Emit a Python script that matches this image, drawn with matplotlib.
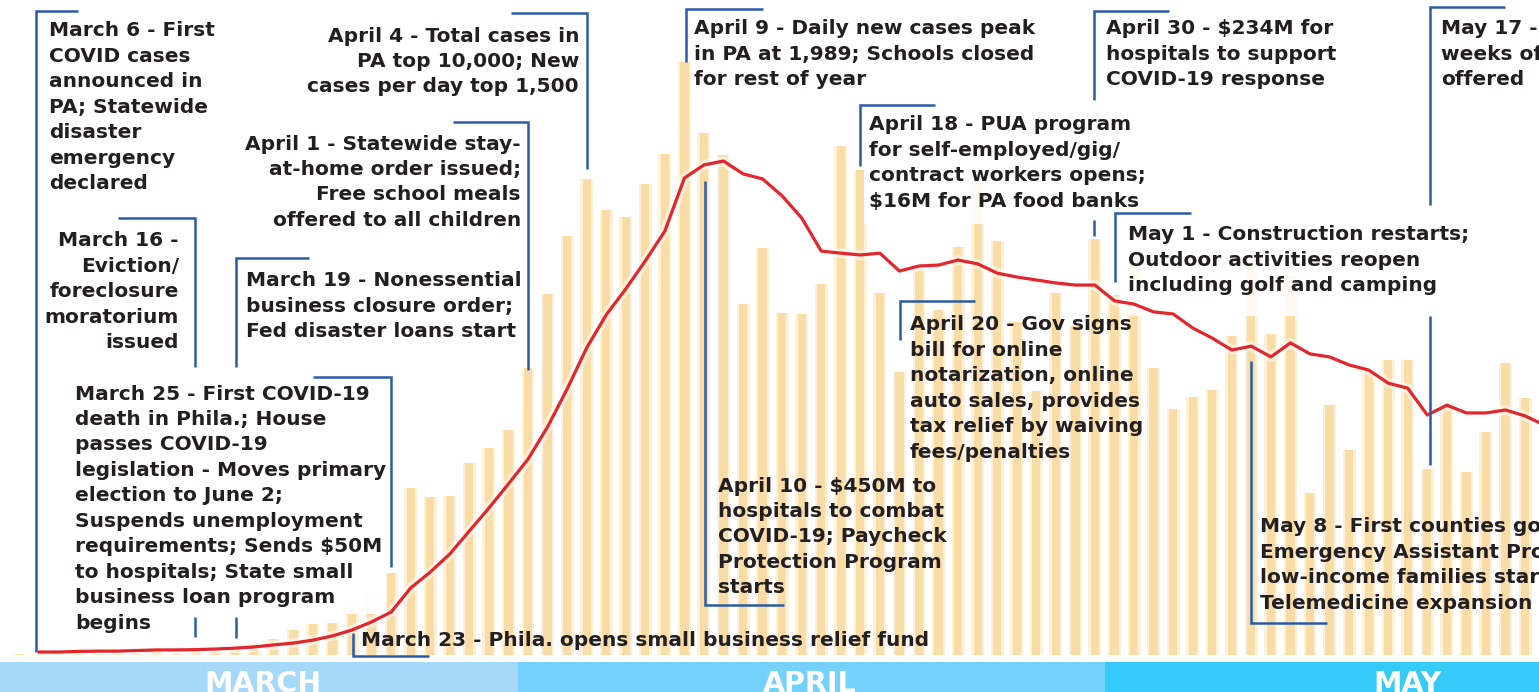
import matplotlib
matplotlib.use("Agg")
import matplotlib.pyplot as plt
import matplotlib.transforms as mtransforms
import matplotlib.patheffects as pe
from matplotlib.patches import Rectangle
from matplotlib.lines import Line2D
import datetime as dt

# ------------------------------------------------------------------ data
march_days = list(range(6, 32))
march_cases = [2, 2, 2, 4, 2, 4, 6, 19, 6, 16, 13, 20, 37, 52, 83, 103, 108,
               165, 207, 276, 560, 531, 533, 643, 693, 756]
april_days = list(range(1, 31))
april_cases = [962, 1211, 1404, 1597, 1493, 1470, 1579, 1680, 1989, 1751,
               1676, 1178, 1366, 1146, 1145, 1245, 1706, 1628, 1215, 948,
               1296, 1156, 1369, 1599, 1390, 1116, 885, 1214, 1102, 1397]
may_days = list(range(1, 23))
may_cases = [1208, 1334, 962, 825, 865, 888, 1070, 1323, 1078, 1270, 543,
             837, 689, 950, 988, 990, 623, 845, 614, 748, 979, 862]

# 7-day average (red line)
march_avg_days = list(range(7, 32))
march_avg = [10, 10, 12, 13, 13, 15, 17, 17, 18, 20, 23, 27, 34, 40, 50, 64,
             84, 111, 144, 225, 278, 339, 416, 493, 574]
april_avg_days = list(range(1, 31))
april_avg = [657, 765, 892, 1030, 1141, 1228, 1322, 1422, 1600, 1644, 1657,
             1614, 1597, 1540, 1466, 1355, 1348, 1342, 1348, 1288, 1305, 1308,
             1325, 1312, 1281, 1268, 1258, 1248, 1241, 1241]
may_avg_days = list(range(1, 24))
may_avg = [1188, 1177, 1151, 1144, 1097, 1063, 1023, 1036, 1000, 1047, 1010,
           1000, 973, 956, 912, 895, 805, 838, 812, 812, 822, 802, 771]

month_labels = ["MARCH", "APRIL", "MAY"]

# ------------------------------------------------------------------ helpers
START = dt.date(2020, 3, 1)


def idx(month, days):
    return [(dt.date(2020, month, d) - START).days for d in days]


bar_x = idx(3, march_days) + idx(4, april_days) + idx(5, may_days)
bar_y = march_cases + april_cases + may_cases
avg_x = idx(3, march_avg_days) + idx(4, april_avg_days) + idx(5, may_avg_days)
avg_y = march_avg + april_avg + may_avg

W, H = 1539, 692
fig = plt.figure(figsize=(W / 100, H / 100), dpi=100)
fig.patch.set_facecolor("white")
ax = fig.add_axes([0, 0, 1, 1])
ax.set_axis_off()
PX_PER_DAY = 19.55
x0 = 31 - 528 / PX_PER_DAY
ax.set_xlim(x0, x0 + W / PX_PER_DAY)
SCALE = 0.2981
ax.set_ylim(-(H - 655) / SCALE, 655 / SCALE)

# pixel transform (origin top-left)
T = mtransforms.Affine2D().scale(1 / W, -1 / H).translate(0, 1) + fig.transFigure

# ------------------------------------------------------------------ bars
ax.bar(bar_x, bar_y, width=0.66, color="#FDF1D9", linewidth=0, zorder=1)
ax.bar(bar_x, bar_y, width=0.42, color="#FADDA6", linewidth=0, zorder=1.5)

# ------------------------------------------------------------------ month band
band_frac = 30 / H
month_edges = [x0, 30.5, 60.5, x0 + W / PX_PER_DAY]
band_colors = ["#A6D9F9", "#74D1FB", "#36CAF8"]
for i, c in enumerate(band_colors):
    ax.axvspan(month_edges[i], month_edges[i + 1], ymin=0, ymax=band_frac,
               color=c, linewidth=0, zorder=5)
for lab, px in zip(month_labels, [263, 810, 1408]):
    ax.text(px, 692, lab, transform=T, ha="center", va="baseline",
            color="white", fontsize=20.5, fontweight="bold",
            family="DejaVu Sans", zorder=50)

# ------------------------------------------------------------------ annotations
BLUE = "#2B5BA6"
TXT = "#231F20"
# y = vertical centre of the first text line (pixels from top)
ann = [
    dict(t="March 6 - First\nCOVID cases\nannounced in\nPA; Statewide\ndisaster\nemergency\ndeclared",
         x=49, y=30, ha="left", seg=[[(78, 11), (36, 11), (36, 652)]]),
    dict(t="March 16 -\nEviction/\nforeclosure\nmoratorium\nissued",
         x=179, y=240, ha="right",
         seg=[[(118, 218), (195, 218), (195, 367)], [(195, 617), (195, 637)]]),
    dict(t="March 19 - Nonessential\nbusiness closure order;\nFed disaster loans start",
         x=246, y=280, ha="left",
         seg=[[(309, 258), (236, 258), (236, 367)], [(236, 617), (236, 638)]]),
    dict(t="April 1 - Statewide stay-\nat-home order issued;\nFree school meals\noffered to all children",
         x=521, y=143, ha="right", seg=[[(453, 122), (528, 122), (528, 370)]]),
    dict(t="April 4 - Total cases in\nPA top 10,000; New\ncases per day top 1,500",
         x=579, y=35, ha="right", seg=[[(511, 13), (587, 13), (587, 169)]]),
    dict(t="March 23 - Phila. opens small business relief fund",
         x=361, y=640, ha="left", seg=[[(353, 633), (353, 656), (429, 656)]]),
    dict(t="March 25 - First COVID-19\ndeath in Phila.; House\npasses COVID-19\nlegislation - Moves primary\n"
           "election to June 2;\nSuspends unemployment\nrequirements; Sends \\$50M\nto hospitals; State small\n"
           "business loan program\nbegins",
         x=75, y=393, ha="left", seg=[[(313, 377), (391, 377), (391, 567)]],
         box=(62, 372, 386, 614, 0.95)),
    dict(t="April 9 - Daily new cases peak\nin PA at 1,989; Schools closed\nfor rest of year",
         x=694, y=28, ha="left", seg=[[(763, 9), (686, 9), (686, 62)]]),
    dict(t="April 10 - \\$450M to\nhospitals to combat\nCOVID-19; Paycheck\nProtection Program\nstarts",
         x=718, y=485, ha="left", seg=[[(705, 181), (705, 605), (784, 605)]]),
    dict(t="April 18 - PUA program\nfor self-employed/gig/\ncontract workers opens;\n\\$16M for PA food banks",
         x=869, y=124, ha="left", seg=[[(935, 105), (860, 105), (860, 166)]],
         box=(864, 101, 1150, 224, 0.85)),
    dict(t="April 20 - Gov signs\nbill for online\nnotarization, online\nauto sales, provides\ntax relief by waiving\nfees/penalties",
         x=910, y=324, ha="left", seg=[[(975, 301), (900, 301), (900, 340)]]),
    dict(t="April 30 - \\$234M for\nhospitals to support\nCOVID-19 response",
         x=1106, y=28, ha="left",
         seg=[[(1169, 11), (1094, 11), (1094, 100)], [(1094, 220), (1094, 236)]]),
    dict(t="May 1 - Construction restarts;\nOutdoor activities reopen\nincluding golf and camping",
         x=1128, y=234, ha="left", seg=[[(1191, 213), (1115, 213), (1115, 282)]],
         box=(1120, 205, 1505, 316, 0.85)),
    dict(t="May 8 - First counties go yellow;\nEmergency Assistant Program for\nlow-income families starts;\nTelemedicine expansion",
         x=1260, y=526, ha="left", seg=[[(1251, 361), (1251, 623), (1327, 623)]]),
    dict(t="May 17 - Extra 13\nweeks of benefits\noffered",
         x=1441, y=28, ha="left",
         seg=[[(1505, 7), (1430, 7), (1430, 205)], [(1430, 316), (1430, 465)]]),
]

for a in ann:
    if "box" in a:
        bx0, by0, bx1, by1, al = a["box"]
        ax.add_patch(Rectangle((bx0, by0), bx1 - bx0, by1 - by0, transform=T,
                               facecolor="white", edgecolor="none", alpha=al,
                               zorder=10))
    for s in a["seg"]:
        xs = [p[0] for p in s]
        ys = [p[1] for p in s]
        ax.add_line(Line2D(xs, ys, transform=T, color=BLUE, lw=1.8,
                           solid_capstyle="butt", solid_joinstyle="miter",
                           zorder=35))
    ax.text(a["x"], a["y"] - 8.5, a["t"], transform=T, ha=a["ha"], va="top",
            fontsize=14.5, fontweight="bold", family="DejaVu Sans",
            color=TXT, linespacing=1.43, zorder=40)

# ------------------------------------------------------------------ red line
ax.plot(avg_x, avg_y, color="#E3262B", lw=2.3, zorder=30,
        solid_joinstyle="round",
        path_effects=[pe.Stroke(linewidth=7, foreground="white", alpha=0.55),
                      pe.Normal()])

fig.savefig("out.png", dpi=100, facecolor="white")
